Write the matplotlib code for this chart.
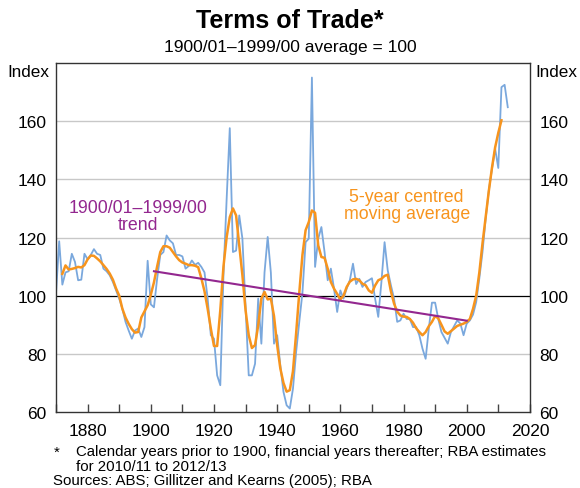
import numpy as np
import matplotlib.pyplot as plt

plt.rcParams['font.family'] = ['Liberation Sans', 'DejaVu Sans']

# Terms of trade, annual (calendar years to 1900, financial years after)
years = np.arange(1870, 2014)
tot = [
    101, 118.7, 103.8, 108, 108.4, 114.4, 111.6, 105.3, 105.5, 114.4,   # 1870s
    112.5, 114, 116, 114.4, 114, 109.3, 108.4, 107, 104.7, 101.8,       # 1880s
    99, 95.5, 91, 88, 85.2, 88, 88.7, 85.8, 89.2, 112,                  # 1890s
    97, 96, 105.8, 114, 115, 120.7, 119, 118, 114, 114,                 # 1900s
    113.5, 109.3, 110.2, 112.1, 110.6, 111.3, 109.9, 108, 99, 86.4,     # 1910s
    85.2, 72.6, 69.2, 107, 133, 157.6, 115, 115.5, 127.6, 119.6,        # 1920s
    96, 72.6, 72.6, 76.6, 99, 83.5, 108, 120.2, 108, 83.5,              # 1930s
    86.4, 76, 66.9, 62.3, 61.2, 68, 80.6, 91, 101, 118.4,               # 1940s
    119.6, 175, 109.9, 119.6, 123.6, 115, 105.3, 109.3, 102.4, 94.4,    # 1950s
    101.8, 99, 102.4, 105.3, 111, 104, 105.8, 103, 104.7, 105.3,        # 1960s
    106, 99, 92.7, 104.7, 118.4, 108.7, 103.6, 99, 91, 91.5,            # 1970s
    93.8, 92, 92, 89.2, 89.2, 86.4, 81.8, 78.3, 88.7, 97.6,             # 1980s
    97.6, 92, 87.5, 85.5, 83.5, 87.5, 89.5, 91.5, 90.4, 86.4,           # 1990s
    90.4, 91.5, 93.5, 97.8, 106, 115, 126.5, 136.2, 143.6, 150.5,       # 2000s
    143.9, 171.7, 172.5, 164.8,                                         # 2010s
]

# 5-year centred moving average
ma_years = np.arange(1872, 2012)
ma = [
    107.5, 110.4, 109, 109.2, 109.5, 109.9, 109.7, 110.5,               # 1872-79
    112.5, 113.8, 113.7, 112.8, 111.8, 110.5, 109.2, 107.6, 105.5, 102.5,
    100, 95.5, 92.5, 90.3, 88.5, 87.3, 87.5, 92.5, 94.6, 96.7,
    100.3, 104.6, 110, 115, 117, 117, 116.5, 115, 113.5, 112.2,
    111.4, 111, 110.5, 110.5, 110.3, 109.8, 106, 101.5, 95.5, 88.7,
    82.7, 82.7, 95, 110, 120, 127, 130, 127.6, 117.3, 107,
    95, 86.4, 82, 83, 89.8, 99, 101.3, 98.7, 99, 93,
    83, 75, 70, 67, 67.5, 74, 87, 101, 114, 122.5,
    125.3, 129.3, 128.5, 117.3, 113.3, 113, 109.3, 104.7, 102.4, 100.6,
    98.7, 100, 103, 104.8, 105.6, 105.8, 105.3, 104.1, 103.6, 101.8,
    101, 103.5, 105.3, 105.8, 106.8, 107.2, 101.5, 97.3, 94.5, 93.2,
    92.8, 92.7, 92, 90.7, 88.8, 87.5, 86.4, 87.5, 89.5, 91,
    93, 92.2, 90, 87.7, 86.9, 87.8, 88.7, 89.6, 90, 90.4,
    91, 92, 95.5, 100, 108, 118, 127, 136, 144, 151,
    156, 160.3,
]

# 1900/01-1999/00 linear trend (end points)
trend_years = [1901, 2000]
trend = [108.4, 91.4]

yticks = [60, 80, 100, 120, 140, 160]
xticks = np.arange(1880, 2021, 20)

blue = '#7aa8dd'
orange = '#f7941d'
purple = '#93278f'

fig = plt.figure(figsize=(5.8, 4.89), dpi=100)
ax = fig.add_axes([0.0966, 0.1554, 0.817, 0.7137])

for v in yticks[1:]:
    if v == 100:
        ax.axhline(v, color='black', lw=0.9, zorder=1)
    else:
        ax.axhline(v, color='#c8c8c8', lw=1.0, zorder=0)

ax.plot(years, tot, color=blue, lw=1.3, zorder=2)
ax.plot(ma_years, ma, color=orange, lw=1.8, zorder=3)
ax.plot(trend_years, trend, color=purple, lw=1.5, zorder=4)

ax.set_xlim(1870, 2020)
ax.set_ylim(60, 180)
ax.set_xticks(xticks)
ax.set_xticks(np.arange(1870, 2021, 10), minor=True)
ax.set_yticks(yticks)
ax.tick_params(axis='x', which='both', direction='in', length=6, width=1,
               color='#444444', labelsize=12.5, pad=8)
ax.tick_params(axis='y', length=0, labelsize=12.5, pad=7,
               labelleft=True, labelright=True)
for s in ax.spines.values():
    s.set_color('#333333')
    s.set_linewidth(1.0)

ax.text(-0.014, 0.975, 'Index', transform=ax.transAxes, ha='right',
        va='center', fontsize=12.3)
ax.text(1.012, 0.975, 'Index', transform=ax.transAxes, ha='left',
        va='center', fontsize=12.3)

ax.text(1896, 127.5, '1900/01\u20131999/00\ntrend', color=purple,
        ha='center', va='center', fontsize=12.8, linespacing=1.0)
ax.text(1981, 131.3, '5-year centred\nmoving average', color=orange,
        ha='center', va='center', fontsize=12.8, linespacing=1.0)

fig.text(0.5, 0.957, 'Terms of Trade*', ha='center', va='center',
         fontsize=18, fontweight='bold')
fig.text(0.5, 0.903, '1900/01\u20131999/00 average = 100', ha='center',
         va='center', fontsize=12.5)

fig.text(0.092, 0.075, '*', ha='left', va='center', fontsize=10.8)
fig.text(0.131, 0.075,
         'Calendar years prior to 1900, financial years thereafter; RBA estimates',
         ha='left', va='center', fontsize=10.8)
fig.text(0.131, 0.044, 'for 2010/11 to 2012/13', ha='left', va='center',
         fontsize=10.8)
fig.text(0.091, 0.017, 'Sources: ABS; Gillitzer and Kearns (2005); RBA',
         ha='left', va='center', fontsize=10.8)

fig.savefig('out.png', dpi=100)
